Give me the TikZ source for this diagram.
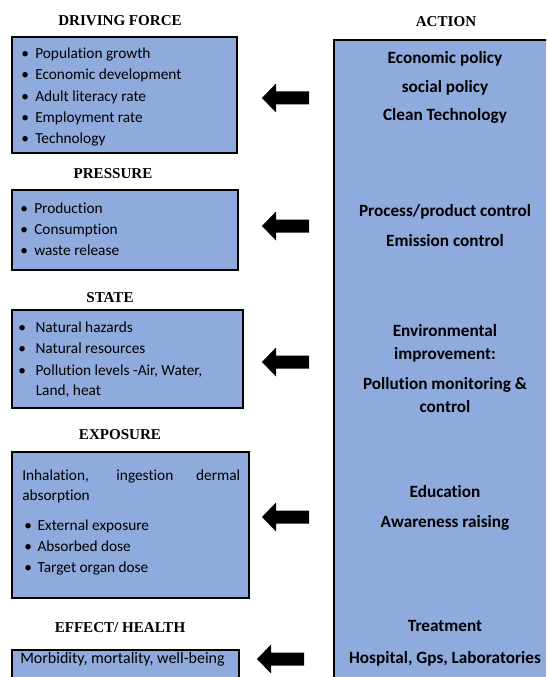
\documentclass[tikz,border=0pt]{standalone}
\usepackage{fontspec}
\setmainfont{Carlito}[Ligatures=NoCommon]
\newfontfamily\titlefont{Liberation Serif}
\definecolor{boxblue}{HTML}{8FAADC}
\tikzset{
  x=0.75pt, y=-0.75pt,
  panel/.style={draw=black, line width=2.2pt, fill=boxblue},
  ttl/.style={font=\titlefont\fontsize{11.3}{13}\selectfont\bfseries, anchor=mid, inner sep=0pt, yshift=-0.75pt},
  itm/.style={font=\fontsize{11.5}{13}\selectfont, anchor=mid west, inner sep=0pt, yshift=-1.5pt},
  act/.style={font=\fontsize{12.9}{15}\selectfont\bfseries, anchor=mid, inner sep=0pt, yshift=-1.5pt},
  blockarrow/.pic={\fill[black] (0,0) -- (14,-14.5) -- (14,-6.5) -- (47,-6.5) -- (47,6.5) -- (14,6.5) -- (14,14.5) -- cycle;}
}
\newcommand{\bul}[1]{\makebox[#1pt][l]{\textbullet}}
\begin{document}
\begin{tikzpicture}
\useasboundingbox (0,0) rectangle (546,677);
\clip (0,0) rectangle (546,677);
% panels
\draw[panel] (12,37) rectangle (237,153);
\draw[panel] (12,190) rectangle (238,270);
\draw[panel] (12,310) rectangle (243,408);
\draw[panel] (12,452) rectangle (249,598);
\draw[panel] (12,650) rectangle (239,700);
\draw[panel] (334,40) rectangle (570,700);
% titles
\node[ttl] (tdf) at (120,21) {DRIVING FORCE};
\node[ttl] (tpr) at (113,174) {PRESSURE};
\node[ttl] (tst) at (110,298) {STATE};
\node[ttl] (tex) at (120,435) {EXPOSURE};
\node[ttl] (teh) at (120,628) {EFFECT/ HEALTH};
\node[ttl] (tac) at (446,22) {ACTION};
% driving force
\node[itm] (df1) at (21,53) {\bul{10.5}Population growth};
\node[itm] (df2) at (21,74) {\bul{10.5}Economic development};
\node[itm] (df3) at (21,96) {\bul{10.5}Adult literacy rate};
\node[itm] (df4) at (21,117) {\bul{10.5}Employment rate};
\node[itm] (df5) at (21,138) {\bul{10.5}Technology};
% pressure
\node[itm] (pr1) at (20,208) {\bul{10.5}Production};
\node[itm] (pr2) at (20,229) {\bul{10.5}Consumption};
\node[itm] (pr3) at (20,250) {\bul{10.5}waste release};
% state
\node[itm] (st1) at (18,327) {\bul{13}Natural hazards};
\node[itm] (st2) at (18,348) {\bul{13}Natural resources};
\node[itm] (st3) at (18,370) {\bul{13}Pollution levels -Air, Water,};
\node[itm] (st4) at (35.5,390) {Land, heat};
% exposure
\node[itm] (ex0) at (22,475) {\makebox[163.5pt][s]{Inhalation, ingestion dermal}};
\node[itm] (ex0b) at (22,495) {absorption};
\node[itm] (ex1) at (24,525) {\bul{10}External exposure};
\node[itm] (ex2) at (24,546) {\bul{10}Absorbed dose};
\node[itm] (ex3) at (24,567) {\bul{10}Target organ dose};
% effect
\node[itm, font=\fontsize{12}{14}\selectfont] (eh1) at (20,658) {Morbidity, mortality, well-being};
% action
\node[act] (a1) at (445,58) {Economic policy};
\node[act] (a2) at (445,87) {social policy};
\node[act] (a3) at (445,115) {Clean Technology};
\node[act] (a4) at (445,211) {Process/product control};
\node[act] (a5) at (445,241) {Emission control};
\node[act] (a6) at (445,331) {Environmental};
\node[act] (a7) at (445,354) {improvement:};
\node[act] (a8) at (445,384) {Pollution monitoring \&};
\node[act] (a9) at (445,407) {control};
\node[act] (a10) at (445,492) {Education};
\node[act] (a11) at (445,522) {Awareness raising};
\node[act] (a12) at (445,626) {Treatment};
\node[act] (a13) at (445,658) {Hospital, Gps, Laboratories};
% arrows
\pic at (262,98) {blockarrow};
\pic at (262,226) {blockarrow};
\pic at (262,362) {blockarrow};
\pic at (262,517) {blockarrow};
\pic at (257,659) {blockarrow};
\end{tikzpicture}
\end{document}
